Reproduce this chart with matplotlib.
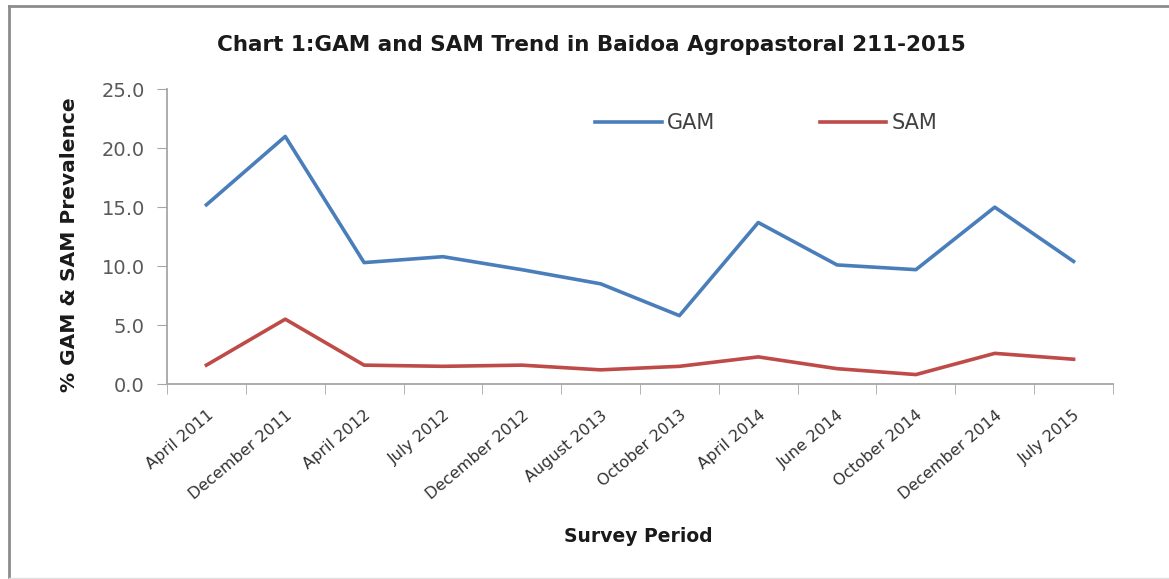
import numpy as np
import matplotlib
matplotlib.use("Agg")
import matplotlib.pyplot as plt
from matplotlib.lines import Line2D
from matplotlib.transforms import ScaledTranslation

plt.rcParams['font.family'] = ['DejaVu Sans']

# Survey rounds and prevalence (%)
periods = ['April 2011', 'December 2011', 'April 2012', 'July 2012',
           'December 2012', 'August 2013', 'October 2013', 'April 2014',
           'June 2014', 'October 2014', 'December 2014', 'July 2015']
gam = [15.2, 21.0, 10.3, 10.8, 9.7, 8.5, 5.8, 13.7, 10.1, 9.7, 15.0, 10.4]
sam = [1.6, 5.5, 1.6, 1.5, 1.6, 1.2, 1.5, 2.3, 1.3, 0.8, 2.6, 2.1]

W, H = 1169, 579
fig = plt.figure(figsize=(W / 100, H / 100), dpi=100)
ax = fig.add_axes([167 / W, 1 - 384 / H, (1113 - 167) / W, (384 - 89.3) / H])

x = np.arange(len(periods))
ax.plot(x, gam, color='#4A7EBB', lw=2.6, label='GAM')
ax.plot(x, sam, color='#BE4B48', lw=2.6, label='SAM')

ax.set_xlim(-0.5, len(periods) - 0.5)
ax.set_ylim(0, 25)
yt = np.arange(0, 25.1, 5)
ax.set_yticks(yt)
ax.set_yticklabels([f'{v:.1f}' for v in yt])

ax.set_xticks(x)
ax.set_xticklabels(periods, rotation=40, ha='right', va='top',
                   rotation_mode='anchor')
off = ScaledTranslation(6 / 100, 0, fig.dpi_scale_trans)
for lab in ax.get_xticklabels():
    lab.set_transform(lab.get_transform() + off)
ax.set_xticks(np.arange(-0.5, len(periods)), minor=True)
ax.tick_params(axis='x', which='major', length=0, pad=17, labelsize=11.5,
               labelcolor='#333333')
ax.tick_params(axis='x', which='minor', length=7, color='#A6A6A6', direction='out')
ax.tick_params(axis='y', length=7, color='#A6A6A6', labelsize=14,
               labelcolor='#595959', pad=9)

for s in ['top', 'right']:
    ax.spines[s].set_visible(False)
for s in ['left', 'bottom']:
    ax.spines[s].set_color('#A6A6A6')
    ax.spines[s].set_linewidth(1.3)

fig.text(70 / W, 1 - 245 / H, '% GAM & SAM Prevalence', rotation=90,
         ha='center', va='center', fontsize=14.5, fontweight='bold', color='#1a1a1a')
fig.text(638 / W, 1 - 536 / H, 'Survey Period', ha='center', va='center',
         fontsize=13.5, fontweight='bold', color='#1a1a1a')
fig.text(591 / W, 1 - 45 / H,
         'Chart 1:GAM and SAM Trend in Baidoa Agropastoral 211-2015',
         ha='center', va='center', fontsize=15.5, fontweight='bold', color='#1a1a1a')

ax.legend(loc='center left', bbox_to_anchor=(585 / W, 1 - 123 / H),
          bbox_transform=fig.transFigure, ncol=2, frameon=False, borderpad=0,
          fontsize=15, handlelength=3.2, columnspacing=5.0, handletextpad=0.25,
          labelcolor='#404040')

# surrounding frame of the original chart
fig.add_artist(Line2D([9 / W, 9 / W], [1 - 578 / H, 1 - 6 / H],
                      transform=fig.transFigure, color='#8C8C8C', lw=2))
fig.add_artist(Line2D([9 / W, 1.0], [1 - 6 / H, 1 - 6 / H],
                      transform=fig.transFigure, color='#8C8C8C', lw=2))
fig.add_artist(Line2D([9 / W, 1.0], [1 - 577.5 / H, 1 - 577.5 / H],
                      transform=fig.transFigure, color='#E0E0E0', lw=1))

fig.savefig('out.png', dpi=100)
